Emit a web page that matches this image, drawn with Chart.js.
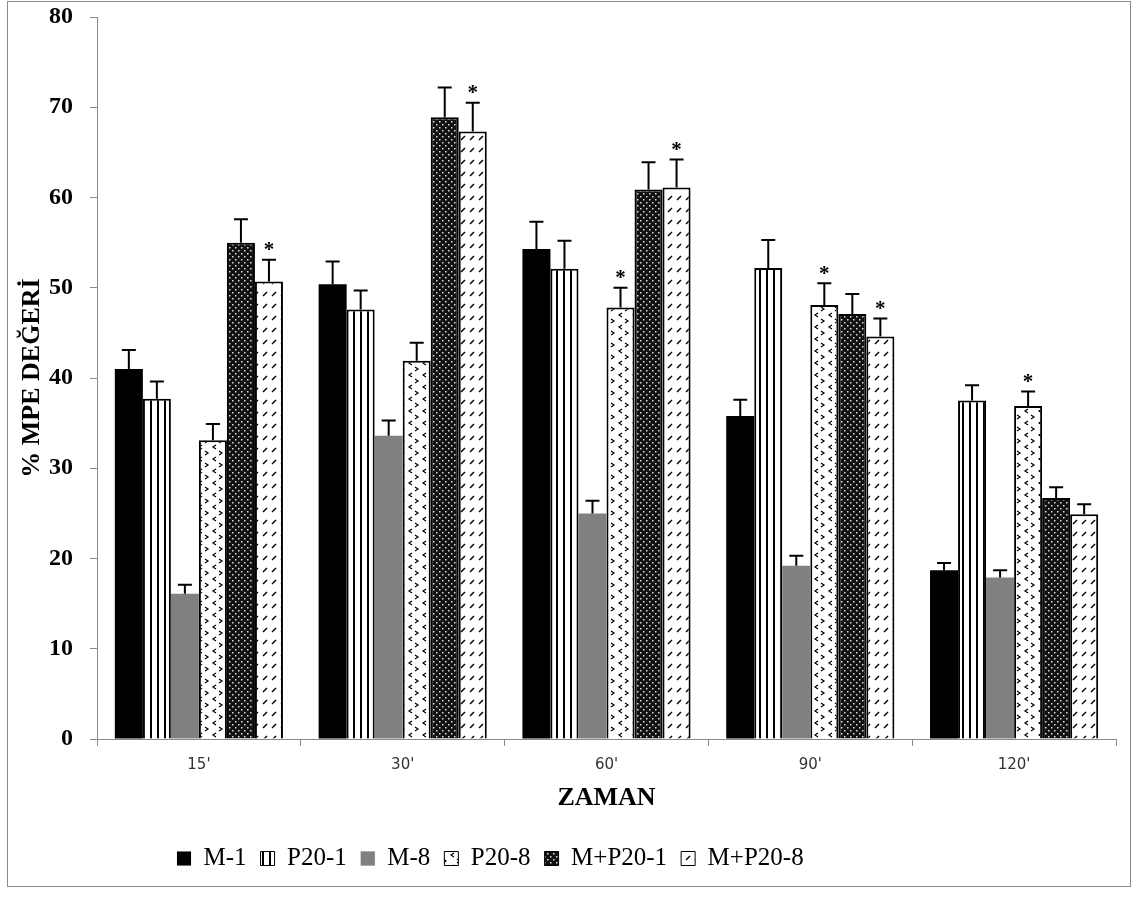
<!DOCTYPE html>
<html>
<head>
<meta charset="utf-8">
<script src="https://cdn.jsdelivr.net/npm/chart.js@4.4.1/dist/chart.umd.min.js"></script>
<style>
  html, body { margin: 0; padding: 0; background: #fff; }
  #wrap { width: 1139px; height: 897px; }
</style>
</head>
<body>
<div id="wrap"><canvas id="mpeChart" width="1139" height="897"></canvas></div>
<script>
const categories = ["15'", "30'", "60'", "90'", "120'"];

// mean % MPE per group
const m1     = [41.0, 50.4, 54.3, 35.8, 18.7];
const p20_1  = [37.7, 47.6, 52.1, 52.2, 37.5];
const m8     = [16.1, 33.6, 25.0, 19.2, 17.9];
const p20_8  = [33.1, 41.9, 47.8, 48.1, 36.9];
const mp20_1 = [55.0, 68.9, 60.9, 47.1, 26.7];
const mp20_8 = [50.7, 67.3, 61.1, 44.6, 24.9];

// error (upper whisker length)
const m1Err     = [2.1, 2.5, 3.0, 1.8, 0.8];
const p20_1Err  = [1.9, 2.1, 3.1, 3.1, 1.7];
const m8Err     = [1.0, 1.7, 1.4, 1.1, 0.8];
const p20_8Err  = [1.8, 2.0, 2.2, 2.4, 1.6];
const mp20_1Err = [2.6, 3.3, 3.0, 2.2, 1.2];
const mp20_8Err = [2.4, 3.2, 3.1, 2.0, 1.1];

// significance marks
const p20_8Star  = [false, false, true, true, true];
const mp20_8Star = [true, true, true, true, false];
const noStar     = [false, false, false, false, false];

const yTicks = [0, 10, 20, 30, 40, 50, 60, 70, 80];

function makePattern(w, h, bg, draw) {
  const c = document.createElement('canvas');
  c.width = w; c.height = h;
  const g = c.getContext('2d');
  g.fillStyle = bg;
  g.fillRect(0, 0, w, h);
  draw(g);
  return g.createPattern(c, 'repeat');
}

const vStripes = makePattern(7, 4, '#fff', g => {
  g.fillStyle = '#000';
  g.fillRect(3, 0, 2, 4);
});

const chevrons = makePattern(14, 12, '#fff', g => {
  g.strokeStyle = '#000';
  g.lineWidth = 1.2;
  g.beginPath();
  g.moveTo(6, 1); g.lineTo(3, 3); g.lineTo(6, 5);
  g.moveTo(9, 7); g.lineTo(12, 9); g.lineTo(9, 11);
  g.stroke();
});

const diamonds = makePattern(6, 6, '#111', g => {
  g.fillStyle = '#ddd';
  g.fillRect(1, 1, 1.5, 1.5);
  g.fillRect(4, 4, 1.5, 1.5);
});

const dashes = makePattern(9, 12, '#fff', g => {
  g.strokeStyle = '#000';
  g.lineWidth = 1.4;
  g.beginPath();
  g.moveTo(2, 8); g.lineTo(6, 4);
  g.stroke();
});

const frame = {
  id: 'frame',
  beforeDraw(chart) {
    const ctx = chart.ctx;
    ctx.save();
    ctx.fillStyle = '#fff';
    ctx.fillRect(0, 0, chart.width, chart.height);
    ctx.strokeStyle = '#8a8a8a';
    ctx.lineWidth = 1;
    ctx.strokeRect(7.5, 1.5, 1123, 885);
    ctx.restore();
  }
};

// legend sits left of centre in the original
const legendShift = {
  id: 'legendShift',
  afterLayout(chart) {
    chart.legend.left = 163;
  }
};

const errorBars = {
  id: 'errorBars',
  afterDatasetsDraw(chart) {
    const ctx = chart.ctx;
    const y = chart.scales.y;
    ctx.save();
    ctx.strokeStyle = '#000';
    ctx.lineWidth = 2;
    ctx.fillStyle = '#000';
    ctx.font = 'bold 21px "Liberation Serif"';
    ctx.textAlign = 'center';
    chart.data.datasets.forEach((ds, i) => {
      chart.getDatasetMeta(i).data.forEach((bar, j) => {
        const top = y.getPixelForValue(ds.data[j] + ds.errors[j]);
        ctx.beginPath();
        ctx.moveTo(bar.x, bar.y);
        ctx.lineTo(bar.x, top);
        ctx.moveTo(bar.x - 7, top);
        ctx.lineTo(bar.x + 7, top);
        ctx.stroke();
        if (ds.stars[j]) ctx.fillText('*', bar.x, top - 9);
      });
    });
    ctx.restore();
  }
};

const chart = new Chart(document.getElementById('mpeChart'), {
  type: 'bar',
  data: {
    labels: categories,
    datasets: [
      { label: 'M-1', data: m1, errors: m1Err, stars: noStar, backgroundColor: '#000', borderWidth: 0 },
      { label: 'P20-1', data: p20_1, errors: p20_1Err, stars: noStar, backgroundColor: vStripes, borderColor: '#000', borderWidth: 2 },
      { label: 'M-8', data: m8, errors: m8Err, stars: noStar, backgroundColor: '#808080', borderWidth: 0 },
      { label: 'P20-8', data: p20_8, errors: p20_8Err, stars: p20_8Star, backgroundColor: chevrons, borderColor: '#000', borderWidth: 2 },
      { label: 'M+P20-1', data: mp20_1, errors: mp20_1Err, stars: noStar, backgroundColor: diamonds, borderColor: '#000', borderWidth: 2 },
      { label: 'M+P20-8', data: mp20_8, errors: mp20_8Err, stars: mp20_8Star, backgroundColor: dashes, borderColor: '#000', borderWidth: 2 }
    ]
  },
  options: {
    responsive: false,
    animation: false,
    layout: { padding: { left: 17, right: 23, top: 17, bottom: 16 } },
    datasets: { bar: { categoryPercentage: 0.825, barPercentage: 1.0 } },
    scales: {
      x: {
        grid: { drawOnChartArea: false, drawTicks: true, tickLength: 7, color: '#8a8a8a', offset: true },
        border: { color: '#8a8a8a', width: 1 },
        ticks: { color: '#333', font: { family: '"DejaVu Sans"', size: 15, lineHeight: 1.0 }, padding: 12 },
        title: { display: true, text: 'ZAMAN', color: '#000', font: { family: '"Liberation Serif"', size: 26, weight: 'bold', lineHeight: 1.0 }, padding: { top: 0, bottom: 21 } }
      },
      y: {
        min: 0, max: 80,
        afterBuildTicks(scale) { scale.ticks = yTicks.map(v => ({ value: v })); },
        afterFit(scale) { scale.width = 80; scale.paddingTop = 0; scale.paddingBottom = 0; },
        grid: { drawOnChartArea: false, drawTicks: true, tickLength: 7, color: '#8a8a8a' },
        border: { color: '#8a8a8a', width: 1 },
        ticks: { color: '#000', font: { family: '"Liberation Serif"', size: 24, weight: 'bold' }, padding: 17 },
        title: { display: true, text: '% MPE DEĞERİ', color: '#000', font: { family: '"Liberation Serif"', size: 26, weight: 'bold' }, padding: 0 }
      }
    },
    plugins: {
      legend: {
        position: 'bottom',
        align: 'start',
        labels: {
          color: '#000',
          font: { family: '"Liberation Serif"', size: 25 },
          boxWidth: 14, boxHeight: 14, padding: 14,
          generateLabels(chart) {
            return Chart.defaults.plugins.legend.labels.generateLabels(chart).map(l => ({ ...l, lineWidth: 1 }));
          }
        }
      },
      tooltip: { enabled: false }
    }
  },
  plugins: [frame, legendShift, errorBars]
});
</script>
</body>
</html>
